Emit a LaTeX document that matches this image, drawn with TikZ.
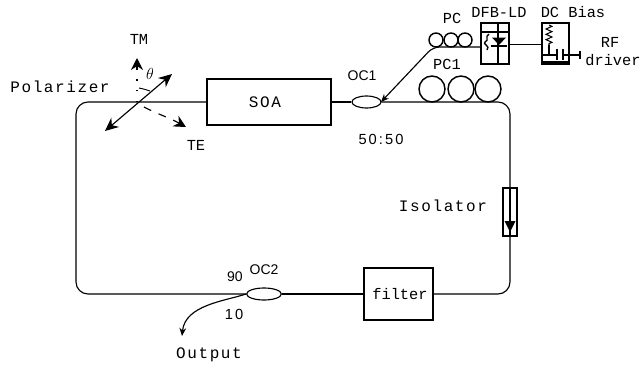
\documentclass[tikz,border=0pt]{standalone}
\usepackage{fontspec}
\setmainfont{Liberation Mono}
\newfontfamily\sansf{Liberation Sans}
\newfontfamily\widef[LetterSpace=10]{Liberation Mono}
\newfontfamily\widesans[LetterSpace=14]{Liberation Sans}
\usetikzlibrary{arrows.meta,decorations.pathmorphing,shapes.geometric}
\tikzset{
  fib/.style={line width=0.85pt,black},
  boxn/.style={draw,line width=0.85pt,minimum width=#1,inner sep=0pt},
  lab/.style={inner sep=0pt,font=\fontsize{11.5}{12}\selectfont},
  wlab/.style={inner sep=0pt,font=\widef\fontsize{12}{12}\selectfont},
  slab/.style={inner sep=0pt,font=\sansf\fontsize{10.5}{12}\selectfont},
  coil/.style={draw,line width=1.1pt,circle,inner sep=0pt},
  tipf/.style={-{Stealth[length=9pt,width=9pt]}},
  tips/.style={-{Stealth[length=6pt,width=5pt]}}
}
\begin{document}
\begin{tikzpicture}[x=0.75pt,y=-0.75pt]
\useasboundingbox (0,0) rectangle (640,368);
% main nodes
\node[boxn=93pt,minimum height=34.5pt] (soa) at (269,102) {};
\node[wlab] at (265,102) {SOA};
\node[boxn=51.75pt,minimum height=39pt] (filt) at (398.5,294) {};
\node[lab] at (400,294) {filter};
\node[boxn=10.5pt,minimum height=36pt] (iso) at (510,212) {};
\node[draw,line width=0.85pt,ellipse,minimum width=21.75pt,minimum height=9pt,inner sep=0pt] (oca) at (366.5,102) {};
\node[draw,line width=0.85pt,ellipse,minimum width=26pt,minimum height=9pt,inner sep=0pt] (ocb) at (264,294) {};
\node[boxn=21pt,minimum height=30.75pt] (dfb) at (495,43.5) {};
\node[boxn=20.25pt,minimum height=30.75pt] (dc) at (555.5,43.5) {};
% loop coordinates
\coordinate (tr) at (510,102);
\coordinate (br) at (510,294);
\coordinate (bl) at (76,294);
\coordinate (tl) at (76,102);
% loop
\draw[fib,rounded corners=9pt] (soa.west) -- (tl) -- (bl) -- (ocb.west);
\draw[fib] (soa.east) -- (oca.west);
\draw[fib,rounded corners=9pt] (oca.east) -- (tr) -- (iso.north);
\draw[fib,rounded corners=9pt] (iso.south) -- (br) -- (filt.east);
\draw[fib] (filt.west) -- (ocb.east);
% isolator
\draw[fib] (iso.north) -- (iso.south);
\coordinate (isob) at (510,232);
\fill (504.5,221) -- (515.5,221) -- (isob) -- cycle;
% PC1
\node[coil,minimum size=19.5pt] (c1) at (432,89) {};
\node[coil,minimum size=19.5pt] (c2) at (461,89) {};
\node[coil,minimum size=19.5pt] (c3) at (488,89) {};
\node[lab] at (447,64) {PC1};
% PC
\node[coil,minimum size=10.5pt] (p1) at (436,40) {};
\node[coil,minimum size=10.5pt] (p2) at (451,40) {};
\node[coil,minimum size=10.5pt] (p3) at (465,40) {};
\node[lab] at (452,18) {PC};
% PC fibre to OC1
\coordinate (pj) at (433,47);
\coordinate (ocin) at (381,102);
\draw[fib,tips,rounded corners=5pt] (dfb.west |- pj) -- (pj) -- (ocin);
% DFB-LD
\node[lab] at (499,12) {DFB-LD};
\draw[fib] (481,32) -- (509,32);
\draw[fib] (498,23) -- (498,64);
\fill (492,37.5) -- (506,37.5) -- (499,45) -- cycle;
\draw[fib] (491,46) -- (507,46);
\draw[line width=1pt] (489,34) .. controls (484,37) and (490,40) .. (485,42) .. controls (482,44) and (491,46) .. (487,50);
\coordinate (lk) at (525,44.5);
\draw[fib] (dfb.east |- lk) -- (dc.west |- lk);
% DC bias
\node[lab] at (573,12) {DC Bias};
\draw[line width=0.8pt,decorate,decoration={zigzag,segment length=4pt,amplitude=2.2pt}] (549,25) -- (549,45);
\draw[fib] (549,45) -- (549,55);
\draw[fib] (542,55) -- (557,55);
\draw[fib] (557,49) -- (557,60);
\draw[fib] (563,49) -- (563,60);
\draw[fib] (563,55) -- (580,55);
\draw[fib] (580,51) -- (580,59);
\draw[fib] (542,62) -- (569,62);
\node[lab] at (610,42) {RF};
\node[lab] at (613,60) {driver};
% polarizer
\coordinate (pa) at (172,74);
\coordinate (pb) at (105,131);
\draw[fib,{Stealth[length=10pt,width=9pt]}-{Stealth[length=10pt,width=9pt]}] (pb) -- (pa);
\draw[fib,dash pattern=on 1pt off 7pt] (137,102) -- (137,72);
\coordinate (tma) at (137,70);
\coordinate (tmb) at (137,58);
\draw[fib,tipf] (tma) -- (tmb);
\coordinate (tea) at (144,107);
\coordinate (teb) at (186,127);
\draw[fib,dash pattern=on 6pt off 6pt,tipf] (tea) .. controls (155,113) and (170,118) .. (teb);
\draw[line width=0.7pt] (139,88) .. controls (144,89) and (147,90) .. (150,91);
\node[inner sep=0pt,font=\fontsize{12}{12}\selectfont] at (150,74) {$\theta$};
\node[lab] at (139,39) {TM};
\node[lab] at (196,145) {TE};
\node[wlab] at (60,87) {Polarizer};
% labels
\node[wlab] at (443,206) {Isolator};
\node[slab] at (362,76) {OC1};
\node[inner sep=0pt,font=\widesans\fontsize{11}{12}\selectfont] at (381,139) {50:50};
\node[slab] at (264,270) {OC2};
\node[slab] at (235,277) {90};
\node[inner sep=0pt,font=\widesans\fontsize{11}{12}\selectfont] at (234,314) {10};
\node[wlab] at (209,355) {Output};
% output fibre
\coordinate (oe) at (182,336);
\draw[fib,tips] (ocb.west) .. controls (225,301) and (185,305) .. (oe);
\end{tikzpicture}
\end{document}
